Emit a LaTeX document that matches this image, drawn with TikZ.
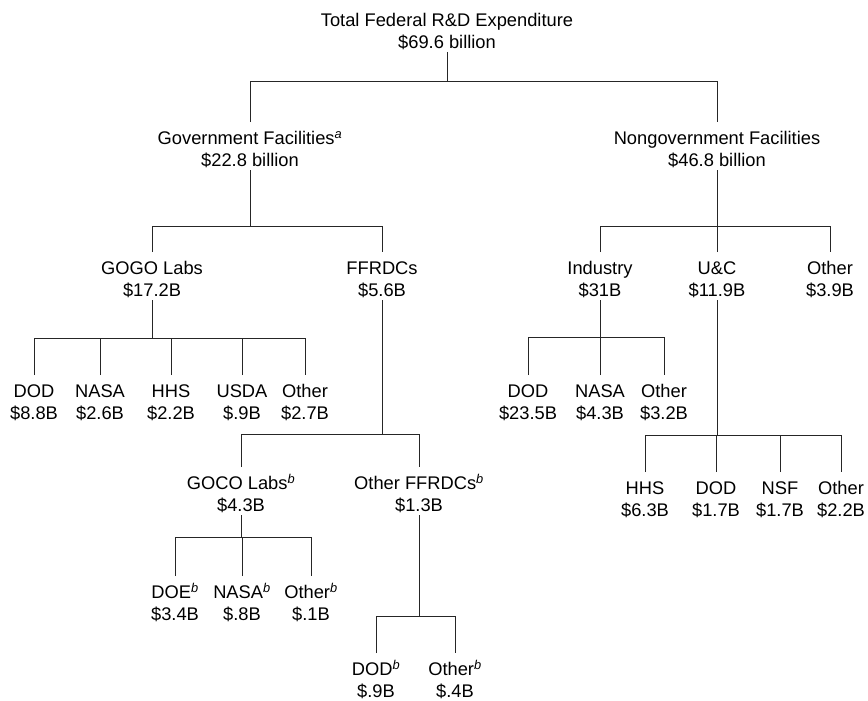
\documentclass[tikz,border=0pt]{standalone}
\usepackage{fontspec}
\setmainfont{Liberation Sans}
\newcommand\Ltop{\rule{0pt}{22.6pt}}
\newcommand\Lbot{\rule[-3.4pt]{0pt}{3.4pt}}
\newcommand\supit[1]{\textsuperscript{\itshape #1}}
\begin{document}
\begin{tikzpicture}[x=1pt,y=1pt,
  box/.style={anchor=north, align=center, inner sep=0pt, outer sep=0pt,
    font=\fontsize{18.3}{22}\selectfont},
  wire/.style={line width=1pt, black!85}]
\useasboundingbox (0,0) rectangle (868,-701);
% nodes
\node[box] (root) at (447,-4) {\Ltop Total Federal R\&D Expenditure\\\$69.6 billion\Lbot};
\node[box] (gov) at (250,-122) {\Ltop Government Facilities\supit{a}\\\$22.8 billion\Lbot};
\node[box] (ngov) at (717,-122) {\Ltop Nongovernment Facilities\\\$46.8 billion\Lbot};
\node[box] (gogo) at (152,-252) {\Ltop GOGO Labs\\\$17.2B\Lbot};
\node[box] (ffrdc) at (382,-252) {\Ltop FFRDCs\\\$5.6B\Lbot};
\node[box] (ind) at (600,-252) {\Ltop Industry\\\$31B\Lbot};
\node[box] (uc) at (717,-252) {\Ltop U\&C\\\$11.9B\Lbot};
\node[box] (ngoth) at (830,-252) {\Ltop Other\\\$3.9B\Lbot};
% GOGO children
\node[box] (g1) at (34,-375) {\Ltop DOD\\\$8.8B\Lbot};
\node[box] (g2) at (100,-375) {\Ltop NASA\\\$2.6B\Lbot};
\node[box] (g3) at (171,-375) {\Ltop HHS\\\$2.2B\Lbot};
\node[box] (g4) at (242,-375) {\Ltop USDA\\\$.9B\Lbot};
\node[box] (g5) at (305,-375) {\Ltop Other\\\$2.7B\Lbot};
% Industry children
\node[box] (i1) at (528,-375) {\Ltop DOD\\\$23.5B\Lbot};
\node[box] (i2) at (600,-375) {\Ltop NASA\\\$4.3B\Lbot};
\node[box] (i3) at (664,-375) {\Ltop Other\\\$3.2B\Lbot};
% FFRDC children
\node[box] (goco) at (241,-467) {\Ltop GOCO Labs\supit{b}\\\$4.3B\Lbot};
\node[box] (offrdc) at (419,-467) {\Ltop Other FFRDCs\supit{b}\\\$1.3B\Lbot};
% U&C children
\node[box] (u1) at (645,-472) {\Ltop HHS\\\$6.3B\Lbot};
\node[box] (u2) at (716,-472) {\Ltop DOD\\\$1.7B\Lbot};
\node[box] (u3) at (780,-472) {\Ltop NSF\\\$1.7B\Lbot};
\node[box] (u4) at (841,-472) {\Ltop Other\\\$2.2B\Lbot};
% GOCO children
\node[box] (c1) at (175,-576) {\Ltop DOE\supit{b}\\\$3.4B\Lbot};
\node[box] (c2) at (242,-576) {\Ltop NASA\supit{b}\\\$.8B\Lbot};
\node[box] (c3) at (311,-576) {\Ltop Other\supit{b}\\\$.1B\Lbot};
% Other FFRDC children
\node[box] (o1) at (376,-653) {\Ltop DOD\supit{b}\\\$.9B\Lbot};
\node[box] (o2) at (455,-653) {\Ltop Other\supit{b}\\\$.4B\Lbot};
% bar levels
\coordinate (b0) at (0,-82);
\coordinate (b1) at (0,-226);
\coordinate (b2) at (0,-338);
\coordinate (b3) at (0,-337);
\coordinate (b4) at (0,-434);
\coordinate (b5) at (0,-435);
\coordinate (b6) at (0,-537);
\coordinate (b7) at (0,-616);
% connectors
\begin{scope}[wire]
\draw (root.south) -- (root.south |- b0);
\draw (gov.north) |- (ngov.north |- b0) -- (ngov.north);

\draw (gov.south) -- (gov.south |- b1);
\draw (gogo.north) |- (ffrdc.north |- b1) -- (ffrdc.north);

\draw (ngov.south) -- (ngov.south |- b1);
\draw (ind.north) |- (ngoth.north |- b1) -- (ngoth.north);
\draw (uc.north) -- (uc.north |- b1);

\draw (gogo.south) -- (gogo.south |- b2);
\draw (g1.north) |- (g5.north |- b2) -- (g5.north);
\draw (g2.north) -- (g2.north |- b2);
\draw (g3.north) -- (g3.north |- b2);
\draw (g4.north) -- (g4.north |- b2);

\draw (ind.south) -- (ind.south |- b3);
\draw (i1.north) |- (i3.north |- b3) -- (i3.north);
\draw (i2.north) -- (i2.north |- b3);

\draw (ffrdc.south) -- (ffrdc.south |- b4);
\draw (goco.north) |- (offrdc.north |- b4) -- (offrdc.north);

\draw (uc.south) -- (uc.south |- b5);
\draw (u1.north) |- (u4.north |- b5) -- (u4.north);
\draw (u2.north) -- (u2.north |- b5);
\draw (u3.north) -- (u3.north |- b5);

\draw (goco.south) -- (goco.south |- b6);
\draw (c1.north) |- (c3.north |- b6) -- (c3.north);
\draw (c2.north) -- (c2.north |- b6);

\draw (offrdc.south) -- (offrdc.south |- b7);
\draw (o1.north) |- (o2.north |- b7) -- (o2.north);
\end{scope}
\end{tikzpicture}
\end{document}
